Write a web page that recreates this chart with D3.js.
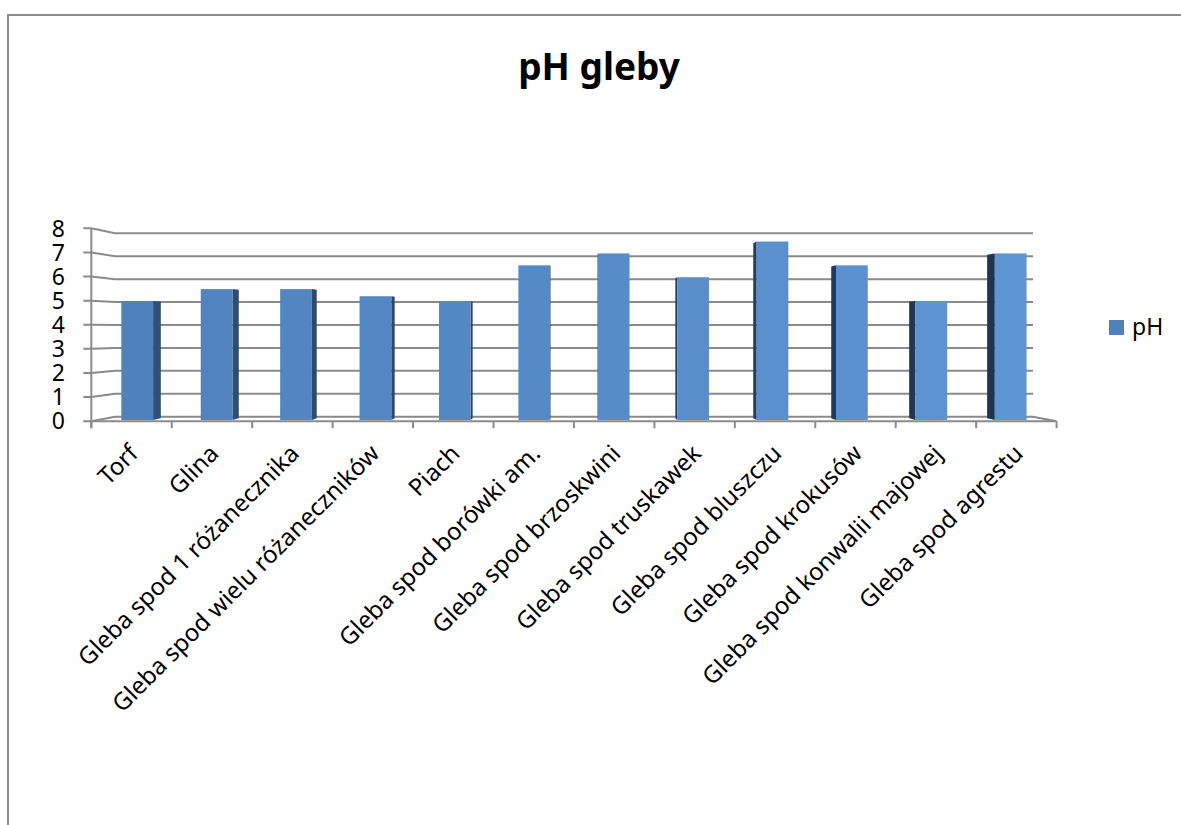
<!DOCTYPE html>
<html>
<head>
<meta charset="utf-8">
<script src="https://cdn.jsdelivr.net/npm/d3@7"></script>
<style>
  html, body { margin: 0; padding: 0; background: #fff; }
  svg { display: block; }
  text { font-family: "Noto Sans", "Open Sans", sans-serif; fill: #000; }
</style>
</head>
<body>
<svg id="chart" width="1181" height="825"></svg>
<script>
// Soil samples and their measured pH
const categories = [
  "Torf",
  "Glina",
  "Gleba spod 1 różanecznika",
  "Gleba spod wielu różaneczników",
  "Piach",
  "Gleba spod borówki am.",
  "Gleba spod brzoskwini",
  "Gleba spod truskawek",
  "Gleba spod bluszczu",
  "Gleba spod krokusów",
  "Gleba spod konwalii majowej",
  "Gleba spod agrestu"
];
const phValues = [5, 5.5, 5.5, 5.2, 5, 6.5, 7, 6, 7.5, 6.5, 5, 7];
const yTicks = [0, 1, 2, 3, 4, 5, 6, 7, 8];
const seriesName = "pH";
const chartTitle = "pH gleby";

const svg = d3.select("#chart");

// Outer chart frame (left and top edges)
svg.append("path")
  .attr("d", "M8,825 L8,15 L1181,15")
  .attr("fill", "none")
  .attr("stroke", "#8c8c8c")
  .attr("stroke-width", 2);

// Simple perspective: back wall coordinates are scaled away from a vanishing point
const vp = { x: 575, y: 330 };
const depth = { back: 1, barBack: 1.019, barFront: 1.038, front: 1.0515 };
const proj = (x, y, s) => [vp.x + (x - vp.x) * s, vp.y + (y - vp.y) * s];

// Scales on the back wall plane
const y = d3.scaleLinear().domain([0, 8]).range([416.7, 233.3]);
const xGrid = d3.scaleBand().domain(categories).range([115, 1033]);
const xBar = d3.scaleBand().domain(categories).range([115, 1033])
  .paddingInner(0.6).paddingOuter(0.3);

const gridColor = "#8a8a8a";
const g = svg.append("g");

// Gridlines: back wall + left side wall + small tick at the front
yTicks.forEach(v => {
  const yb = y(v);
  const [fx, fy] = proj(xGrid.range()[0], yb, depth.front);
  const pts = [[fx - 8, fy], [fx, fy], [xGrid.range()[0], yb], [xGrid.range()[1], yb]];
  g.append("path")
    .attr("d", d3.line()(pts))
    .attr("fill", "none")
    .attr("stroke", gridColor)
    .attr("stroke-width", 2);
});

// Floor front edge, right edge
const y0 = y(0);
const fl = proj(xGrid.range()[0], y0, depth.front);
const fr = proj(xGrid.range()[1], y0, depth.front);
g.append("path")
  .attr("d", d3.line()([fl, fr, [xGrid.range()[1], y0]]))
  .attr("fill", "none").attr("stroke", gridColor).attr("stroke-width", 2);

// Vertical axis line at the front
const fTop = proj(xGrid.range()[0], y(8), depth.front);
g.append("line")
  .attr("x1", fTop[0]).attr("x2", fTop[0])
  .attr("y1", fTop[1]).attr("y2", fl[1] + 7)
  .attr("stroke", gridColor).attr("stroke-width", 2);

// Category ticks on the front floor edge
const edges = categories.map(c => xGrid(c)).concat([xGrid.range()[1]]);
edges.forEach(xb => {
  const [tx, ty] = proj(xb, y0, depth.front);
  g.append("line")
    .attr("x1", tx).attr("x2", tx)
    .attr("y1", ty).attr("y2", ty + 7)
    .attr("stroke", gridColor).attr("stroke-width", 2);
});

// Y tick labels
yTicks.forEach(v => {
  const [, fy] = proj(xGrid.range()[0], y(v), depth.front);
  g.append("text")
    .attr("x", 65).attr("y", fy)
    .attr("dy", "0.36em")
    .attr("text-anchor", "end")
    .attr("font-size", 23)
    .text(v);
});

// Bars: front face + visible side face toward the vanishing point
const faceColor = d3.interpolateRgb("#4f81bd", "#5e95d3");
const sideColor = d3.interpolateRgb("#2f5079", "#1f344f");
const bars = svg.append("g");
categories.forEach((c, i) => {
  const v = phValues[i];
  const x0 = xBar(c), x1 = xBar(c) + xBar.bandwidth();
  const t = i / (categories.length - 1);
  const fTL = proj(x0, y(v), depth.barFront);
  const fBR = proj(x1, y(0), depth.barFront);
  const cx = (x0 + x1) / 2;
  // side face: right side for bars left of vanishing point, left side otherwise
  const sx = cx < vp.x ? x1 : x0;
  const sideFront = [proj(sx, y(v), depth.barFront), proj(sx, y(0), depth.barFront)];
  const sideBack = [proj(sx, y(v), depth.barBack), proj(sx, y(0), depth.barBack)];
  bars.append("path")
    .attr("d", d3.line()([sideFront[0], sideBack[0], sideBack[1], sideFront[1]]) + "Z")
    .attr("fill", sideColor(t));
  bars.append("rect")
    .attr("x", fTL[0]).attr("y", fTL[1])
    .attr("width", fBR[0] - fTL[0]).attr("height", fBR[1] - fTL[1])
    .attr("fill", faceColor(t));
});

// Category labels, rotated
categories.forEach(c => {
  const [cx] = proj(xGrid(c) + xGrid.bandwidth() / 2, y0, depth.front);
  svg.append("text")
    .attr("transform", `translate(${cx + 8},${455}) rotate(-45)`)
    .attr("text-anchor", "end")
    .attr("font-size", 24)
    .text(c);
});

// Title
svg.append("text")
  .attr("x", 599).attr("y", 80)
  .attr("text-anchor", "middle")
  .attr("font-size", 37)
  .attr("font-weight", "bold")
  .text(chartTitle);

// Legend
const legend = svg.append("g").attr("transform", "translate(1109,320)");
legend.append("rect").attr("width", 15).attr("height", 15).attr("fill", "#4f81bd");
legend.append("text").attr("x", 23).attr("y", 15).attr("font-size", 23).text(seriesName);
</script>
</body>
</html>
